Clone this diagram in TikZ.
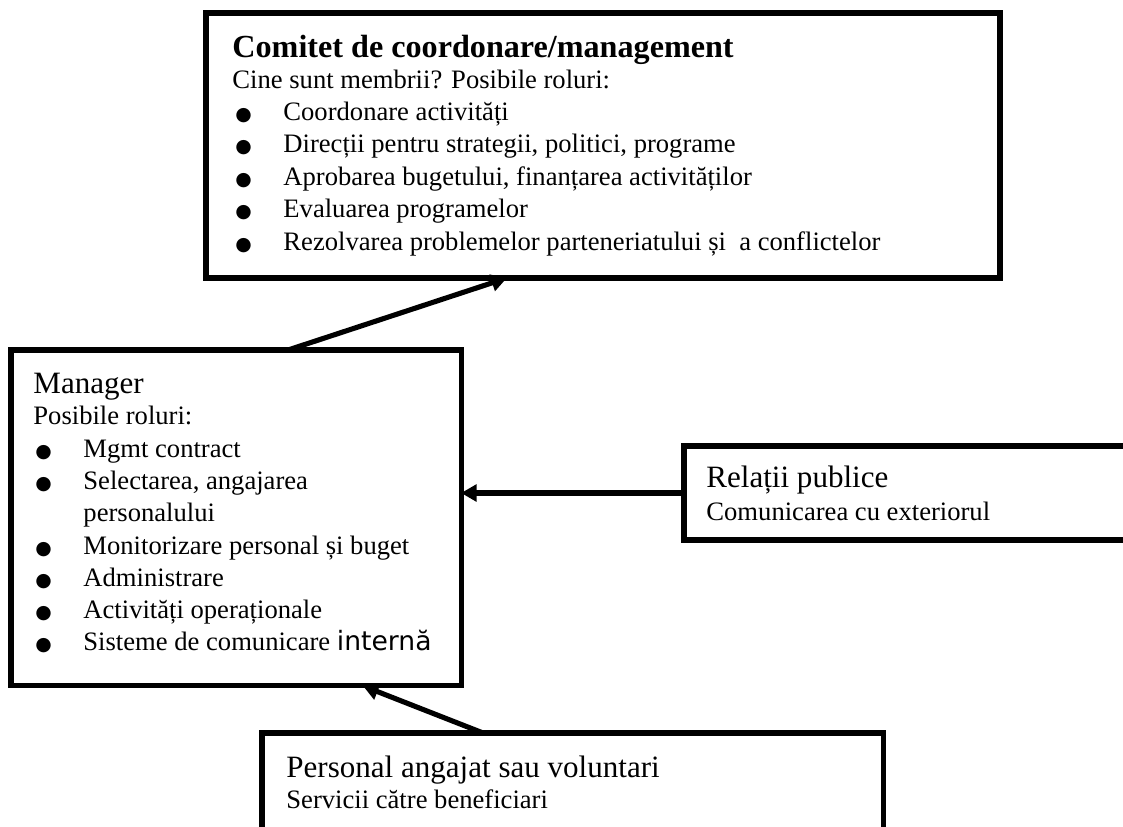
\documentclass[tikz,border=0pt]{standalone}
\usepackage{fontspec}
\setmainfont{Liberation Serif}
\newfontfamily\sansalt{DejaVu Sans}
\usetikzlibrary{arrows.meta,calc}
% round list bullet followed by the hanging indent
\newcommand\bl{\makebox[21.65pt][l]{{\sansalt\fontsize{8.5}{9}\selectfont ●}}}
\newcommand\hang{\hspace*{21.65pt}}
\begin{document}
\begin{tikzpicture}[x=0.451pt,y=-0.451pt,
  box/.style={draw, line width=2.3pt, rectangle, inner sep=0pt, outer sep=0pt, anchor=north west},
  txt/.style={anchor=base west, inner sep=0pt, font=\fontsize{12}{14}\selectfont},
  head/.style={anchor=base west, inner sep=0pt, font=\fontsize{14}{16}\selectfont},
  link/.style={line width=2.3pt, -{Triangle[length=7pt,width=7.5pt]}}]
\useasboundingbox (0,0) rectangle (1123,827);
\clip (0,0) rectangle (1123,827);

% frames
\node[box, minimum width=358.1pt, minimum height=119.5pt] (com) at (206,13) {};
\node[box, minimum width=203pt, minimum height=151.5pt] (mgr) at (11,350) {};
\node[box, minimum width=225.5pt, minimum height=42.4pt] (rel) at (684,446) {};
\node[box, minimum width=280.1pt, minimum height=58.6pt] (pers) at (262,733) {};

% committee
\node[head, font=\bfseries\fontsize{14.5}{16}\selectfont] (comT) at (232,57) {Comitet de coordonare/management};
\node[txt] (comS) at (232,88) {Cine sunt membrii? Posibile roluri:};
\node[txt] (comA) at (235,120) {\bl Coordonare activități};
\node[txt] (comB) at (235,152.5) {\bl Direcții pentru strategii, politici, programe};
\node[txt] (comC) at (235,185) {\bl Aprobarea bugetului, finanțarea activităților};
\node[txt] (comD) at (235,217.5) {\bl Evaluarea programelor};
\node[txt] (comE) at (235,250) {\bl Rezolvarea problemelor parteneriatului și\ \ a conflictelor};

% manager
\node[head] (mgrT) at (33,393) {Manager};
\node[txt] (mgrS) at (33,424) {Posibile roluri:};
\node[txt] (mgrA) at (35,457) {\bl Mgmt contract};
\node[txt] (mgrB) at (35,489) {\bl Selectarea, angajarea};
\node[txt] (mgrB2) at (35,521) {\hang personalului};
\node[txt] (mgrC) at (35,554) {\bl Monitorizare personal și buget};
\node[txt] (mgrD) at (35,586) {\bl Administrare};
\node[txt] (mgrE) at (35,618) {\bl Activități operaționale};
\node[txt] (mgrF) at (35,650) {\bl Sisteme de comunicare {\sansalt internă}};

% public relations
\node[head] (relT) at (706,487) {Relații publice};
\node[txt] (relS) at (706,520) {Comunicarea cu exteriorul};

% staff
\node[head] (persT) at (286,777) {Personal angajat sau voluntari};
\node[txt] (persS) at (286,808) {Servicii către beneficiari};

% reporting lines
\draw[link] ($(mgr.north west)!0.6156!(mgr.north east)$) -- ($(com.south west)!0.379!(com.south east)$);
\draw[link] (rel.west) -- (rel.west -| mgr.east);
\draw[link] ($(pers.north west)!0.356!(pers.north east)$) -- ($(mgr.south west)!0.782!(mgr.south east)$);
\end{tikzpicture}
\end{document}
